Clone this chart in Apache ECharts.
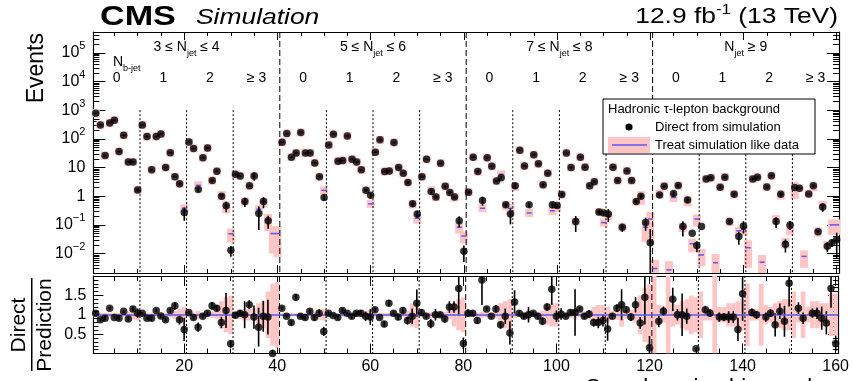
<!DOCTYPE html>
<html><head><meta charset="utf-8">
<script src="https://cdn.jsdelivr.net/npm/echarts@6/dist/echarts.min.js"></script>
<style>html,body{margin:0;padding:0;background:#fff}#c{width:852px;height:381px}</style>
</head><body><div id="c"></div>
<script>
// ---------------- data ----------------
const BIN = Array.from({length:160}, (_, i) => i + 1);

const direct = [
 780,305,26,359,445,36,133,15.7,15.7,1.66,
 305,120,8.3,120,148,10,33,4.8,2.7,0.27,
 78,46,1.7,22,48,3.5,7.4,1.0,0.46,0.013,
 5.8,5.1,0.65,2.3,5.1,0.25,0.65,0.14,null,null,
 76,152,23,32,166,32,32,14.5,4.8,0.9,
 61,145,16.6,17.5,126,19.5,15.7,8.3,1.6,1.08,
 34,92,7.2,7.6,74,10,6.3,3.0,0.54,0.24,
 4.8,19.5,1.45,0.93,14,2.2,1.34,0.93,0.14,0.012,
 1.38,23,7.2,0.71,22,11,3.4,4.4,0.5,0.24,
 2.3,40,11.4,0.5,28,13.4,2.5,6.3,0.5,0.47,
 1.15,32,10,0.13,23,10.3,2.3,3.2,0.28,0.26,
 0.24,10.3,3.5,0.083,7.6,3.5,0.65,1.0,0.12,0.024,
 null,1.1,2.2,null,1.23,2.34,0.087,0.74,0.051,0.019,
 0.087,4.0,4.4,null,2.06,4.6,0.13,1.17,0.039,0.092,
 null,4.0,4.6,null,2.1,5.2,0.13,1.17,0.021,0.1,
 2.0,1.9,null,1.2,2.3,0.058,0.42,0.018,0.024,0.03];

const pred = [
 780,305,26,359,445,36,133,15.7,15.7,1.66,
 305,120,8.3,120,148,10,33,4.8,2.7,0.38,
 78,46,2.4,22,48,3.5,7.4,1.1,0.46,0.049,
 5.8,5.1,0.65,2.3,5.1,0.35,0.65,0.15,0.05,0.05,
 76,152,23,32,166,32,32,14.5,4.8,1.6,
 61,145,16.6,17.5,126,19.5,15.7,8.3,1.6,0.54,
 34,92,7.2,7.6,74,10,6.3,3.0,0.54,0.17,
 4.8,19.5,1.6,0.93,14,2.2,1.34,0.93,0.083,0.041,
 1.38,23,7.2,0.38,22,11,3.4,5.8,0.5,0.38,
 2.1,40,11.4,0.26,28,13.4,2.5,6.3,0.31,0.4,
 1.15,32,10,0.13,23,10.3,2.3,3.2,0.28,0.12,
 0.2,10.3,3.5,0.083,7.6,3.5,0.65,1.0,0.083,0.16,
 0.003,1.2,2.2,0.0027,0.9,2.34,0.087,0.74,0.022,0.16,
 0.009,4.0,4.4,0.0048,2.06,4.6,0.13,1.17,0.062,0.07,
 0.016,4.0,4.6,0.005,2.1,5.2,0.16,1.17,0.025,0.075,
 2.0,1.9,0.008,1.2,2.3,0.06,0.5,0.02,0.1,0.1];

// relative uncertainty of the prediction (pink band half-height)
const unc = [
 0.05,0.05,0.05,0.05,0.05,0.05,0.05,0.08,0.12,0.15,
 0.05,0.05,0.05,0.05,0.05,0.05,0.06,0.1,0.15,0.2,
 0.06,0.06,0.1,0.06,0.06,0.08,0.1,0.35,0.45,0.5,
 0.1,0.1,0.15,0.15,0.17,0.3,0.35,0.6,0.8,0.85,
 0.04,0.04,0.04,0.04,0.04,0.04,0.05,0.08,0.12,0.15,
 0.04,0.04,0.04,0.04,0.04,0.04,0.05,0.08,0.1,0.12,
 0.05,0.05,0.05,0.05,0.05,0.05,0.06,0.1,0.3,0.35,
 0.06,0.06,0.08,0.08,0.06,0.08,0.1,0.3,0.4,0.45,
 0.06,0.06,0.06,0.08,0.06,0.06,0.08,0.3,0.35,0.4,
 0.08,0.06,0.08,0.12,0.06,0.08,0.1,0.25,0.3,0.3,
 0.08,0.06,0.08,0.12,0.06,0.08,0.1,0.2,0.25,0.25,
 0.2,0.1,0.12,0.3,0.1,0.12,0.2,0.5,0.7,0.8,
 1.0,0.25,0.2,1.0,0.3,0.25,0.35,0.4,0.5,0.45,
 0.6,0.15,0.15,1.0,0.2,0.2,0.3,0.3,0.35,0.4,
 0.8,0.15,0.15,0.8,0.25,0.2,0.3,0.35,0.4,0.4,
 0.6,0.2,0.6,0.2,0.35,0.35,0.3,0.3,0.55,0.55];

// Direct / Prediction
const ratio = [
 1.04,0.87,0.91,1.17,0.93,0.91,1.09,0.89,1.15,1.04,
 1.04,0.91,0.91,1.11,0.97,0.87,1.11,1.23,0.87,0.62,
 1.06,0.93,0.68,0.96,1.04,1.23,1.17,0.80,1.11,0.25,
 0.99,1.04,1.0,1.26,0.94,0.68,0.96,0.94,0,null,
 1.17,0.96,0.80,1.45,0.96,0.93,1.09,0.93,1.04,0.57,
 1.04,0.98,0.93,1.11,1.04,0.96,1.04,1.04,0.96,0.94,
 1.13,0.93,0.76,1.30,1.04,0.94,1.11,0.85,0.96,1.30,
 1.06,0.96,0.77,1.0,1.0,0.89,1.2,1.2,1.68,0.26,
 1.04,1.04,0.85,1.9,1.15,0.96,1.15,0.74,0.96,0.53,
 1.33,1.04,0.96,1.0,1.04,0.96,0.83,1.2,1.66,0.96,
 1.02,0.96,1.06,1.06,1.15,0.96,1.02,0.80,0.80,0.85,
 0.63,0.96,1.17,1.26,1.13,0.94,1.26,0.79,1.45,0.15,
 null,0.83,1.09,null,1.4,1.0,1.0,0.96,null,0.12,
 null,1.13,1.04,null,0.94,0.94,0.94,0.94,0.62,1.54,
 null,1.06,1.0,null,0.94,1.04,0.74,1.09,0.83,1.81,
 null,1.17,0.91,null,1.04,1.04,0.91,0.79,1.68,0.26];

// statistical error on the ratio
const ratioErr = [
 0.03,0.04,0.06,0.03,0.03,0.05,0.04,0.06,0.06,0.12,
 0.03,0.04,0.07,0.04,0.04,0.06,0.05,0.1,0.12,0.3,
 0.04,0.05,0.12,0.05,0.05,0.1,0.08,0.15,0.45,0.1,
 0.08,0.08,0.35,0.12,0.3,0.5,0.4,0.45,0.1,0,
 0.04,0.03,0.06,0.08,0.03,0.06,0.06,0.08,0.1,0.12,
 0.04,0.03,0.06,0.06,0.03,0.06,0.06,0.08,0.12,0.2,
 0.05,0.04,0.08,0.08,0.05,0.08,0.08,0.1,0.2,0.35,
 0.08,0.05,0.12,0.15,0.06,0.1,0.15,0.15,0.7,0.15,
 0.1,0.05,0.08,0.65,0.05,0.07,0.1,0.1,0.2,0.3,
 0.3,0.05,0.07,0.2,0.05,0.07,0.1,0.1,0.4,0.15,
 0.15,0.05,0.07,0.6,0.05,0.07,0.1,0.1,0.15,0.15,
 0.3,0.07,0.1,0.4,0.08,0.1,0.2,0.15,0.7,0.3,
 0,0.15,0.12,0,0.3,0.15,0.55,0.2,0.3,0.05,
 0,0.1,0.1,0,0.12,0.1,0.15,0.15,0.3,0.7,
 0,0.1,0.1,0,0.12,0.1,0.3,0.2,0.4,0.6,
 0,0.15,0.15,0,0.12,0.15,0.3,0.3,0.5,0.2];

const njetLabels = ['3 ≤ N{s|jet} ≤ 4', '5 ≤ N{s|jet} ≤ 6', '7 ≤ N{s|jet} ≤ 8', 'N{s|jet} ≥ 9'];
const nbLabels = ['0', '1', '2', '≥ 3'];
const groupEdges = [40.5, 80.5, 120.5];
const nbEdges = [10.5,20.5,30.5,50.5,60.5,70.5,90.5,100.5,110.5,130.5,140.5,150.5];
const xMajor = [20,40,60,80,100,120,140,160];

// ---------------- layout / style ----------------
const FF = '"Liberation Sans", Arial, Helvetica, sans-serif';
const PINK = '#ffc4c4', BLUE = '#5a5af0';
const L = 93.4, T1 = 32, W = 745.6, H1 = 241, T2 = 276, H2 = 77.5;
const YMIN = 0.0021, YMAX = 5.3e5;
const LMIN = Math.log10(YMIN), LMAX = Math.log10(YMAX);
const px = v => L + (v - 0.5) / 160 * W;

const xMinor = []; for (let v = 5; v <= 160; v += 5) if (v % 20) xMinor.push(v);
const yMajorLog = [-2,-1,0,1,2,3,4,5];
const yMinorLog = [];
for (let n = -3; n <= 5; n++) for (let k = 2; k <= 9; k++) { const v = n + Math.log10(k); if (v > LMIN && v < LMAX) yMinorLog.push(v); }

const LINE = {color:'#000', width:1.2};
function xa(grid, pos, vals, len, labels, line) {
  return {type:'value', gridIndex:grid, position:pos, min:0.5, max:160.5, offset:0,
    axisLine:{show:line, onZero:false, lineStyle:LINE},
    axisTick:{show:true, inside:true, length:len, customValues:vals, lineStyle:{color:'#000', width:1}},
    axisLabel: labels ? {show:true, customValues:vals, margin:5, color:'#000', fontSize:16, fontFamily:FF} : {show:false},
    splitLine:{show:false}};
}
function logLabel(v) {
  const n = Math.round(v);
  if (n === 0) return '{m|1}';
  if (n === 1) return '{m|10}';
  return '{m|10}{s|' + String(n).replace('-', '−') + '}';
}
function ya(grid, pos, vals, len, labels, line) {
  return {type:'value', gridIndex:grid, position:pos, min:LMIN, max:LMAX, offset:0,
    axisLine:{show:line, onZero:false, lineStyle:LINE},
    axisTick:{show:true, inside:true, length:len, customValues:vals, lineStyle:{color:'#000', width:1}},
    axisLabel: labels ? {show:true, customValues:vals, margin:8, color:'#000', fontFamily:FF, formatter:logLabel,
      rich:{m:{fontSize:16, lineHeight:24, fontFamily:FF, color:'#000'}, s:{fontSize:11, lineHeight:10, verticalAlign:'top', fontFamily:FF, color:'#000'}}} : {show:false},
    splitLine:{show:false}};
}
function ra(pos, labels) {
  return {type:'value', gridIndex:1, position:pos, min:0, max:2, interval:0.5, offset:0,
    axisLine:{show:true, onZero:false, lineStyle:LINE},
    axisTick:{show:true, inside:true, length:10, lineStyle:{color:'#000', width:1}},
    minorTick:{show:true, splitNumber:5, length:5, lineStyle:{color:'#000', width:1}},
    axisLabel: labels ? {show:true, margin:7, color:'#000', fontSize:16, fontFamily:FF, showMinLabel:false, showMaxLabel:false,
      formatter: v => String(v)} : {show:false},
    splitLine:{show:false}};
}

// ---------------- render items ----------------
function rTopBox(params, api) {
  const i = params.dataIndex, p = pred[i]; if (p == null) return null;
  const u = unc[i];
  const c = api.coord([BIN[i], p]);
  const yHi = api.coord([BIN[i], Math.min(p * (1 + u), YMAX)])[1];
  const yLo = api.coord([BIN[i], Math.max(p * (1 - u), YMIN)])[1];
  const y0 = Math.min(yHi, c[1] - 4), y1 = Math.max(yLo, c[1] + 4);
  return {type:'rect', shape:{x:c[0] - 4, y:y0, width:8, height:y1 - y0}, style:{fill:PINK}};
}
function rTopPred(params, api) {
  const i = params.dataIndex, p = pred[i]; if (p == null) return null;
  const c = api.coord([BIN[i], p]);
  return {type:'line', shape:{x1:c[0] - 2.5, y1:c[1], x2:c[0] + 2.5, y2:c[1]}, style:{stroke:BLUE, lineWidth:1.5}};
}
function rTopErr(params, api) {
  const i = params.dataIndex, d = direct[i];
  if (d == null || ratio[i] == null || ratio[i] <= 0 || !ratioErr[i]) return null;
  const rel = ratioErr[i] / ratio[i];
  const a = api.coord([BIN[i], Math.min(d * (1 + rel), YMAX)]);
  const b = api.coord([BIN[i], Math.max(d * (1 - rel), YMIN)]);
  return {type:'line', shape:{x1:a[0], y1:a[1], x2:b[0], y2:b[1]}, style:{stroke:'#000', lineWidth:1.6}};
}
function rRatBox(params, api) {
  const i = params.dataIndex; if (pred[i] == null) return null;
  const u = unc[i];
  const a = api.coord([BIN[i] - 0.5, Math.min(1 + u, 2)]);
  const b = api.coord([BIN[i] + 0.5, Math.max(1 - u, 0)]);
  return {type:'rect', shape:{x:a[0], y:a[1], width:b[0] - a[0], height:b[1] - a[1]}, style:{fill:PINK}};
}
function rRatErr(params, api) {
  const i = params.dataIndex, r = ratio[i], e = ratioErr[i];
  if (r == null || !e) return null;
  const a = api.coord([BIN[i], Math.min(r + e, 2)]);
  const b = api.coord([BIN[i], Math.max(r - e, 0)]);
  return {type:'line', shape:{x1:a[0], y1:a[1], x2:b[0], y2:b[1]}, style:{stroke:'#000', lineWidth:1.6}};
}
function vLine(yTop, yBot, dash) {
  return function (params, api) {
    const v = api.value(0);
    const a = api.coord([v, yTop]), b = api.coord([v, yBot]);
    return {type:'line', shape:{x1:a[0], y1:a[1], x2:b[0], y2:b[1]}, style:{stroke:'#000', lineWidth:1, lineDash:dash}};
  };
}

const binData = BIN.map(b => [b, 1]);
const topDirect = BIN.map((b, i) => [b, direct[i]]).filter(d => d[1] != null);
const ratDirect = BIN.map((b, i) => [b, ratio[i]]).filter(d => d[1] != null);

// ---------------- graphics (text) ----------------
const txt = (x, y, text, o = {}) => ({type:'text', x, y, z:100, scaleX:o.sx || 1, rotation:o.rot || 0,
  style:Object.assign({text, fill:'#000', fontFamily:FF, fontSize:o.fs || 14, fontWeight:o.fw || 'normal', fontStyle:o.fst || 'normal',
    align:o.al || 'left', verticalAlign:o.va || 'middle'}, o.rich ? {rich:o.rich} : {})});

const subRich = {m:{fontSize:14, lineHeight:22, fontFamily:FF, fill:'#000'}, s:{fontSize:9, lineHeight:9, verticalAlign:'bottom', fontFamily:FF, fill:'#000'}};
const graphics = [
  txt(100, 17, 'CMS', {fs:28, fw:'bold', sx:1.22}),
  txt(196, 18, 'Simulation', {fs:22, fst:'italic', sx:1.2}),
  txt(838, 17, '{m|12.9 fb}{s|-1}{m| (13 TeV)}', {al:'right', sx:1.2,
      rich:{m:{fontSize:22, lineHeight:28, fontFamily:FF, fill:'#000'}, s:{fontSize:14, lineHeight:12, verticalAlign:'top', fontFamily:FF, fill:'#000'}}}),
  txt(37, 33, 'Events', {fs:23, al:'right', rot:Math.PI / 2}),
  txt(19, 325, 'Direct', {fs:21, al:'center', rot:Math.PI / 2}),
  txt(45, 325, 'Prediction', {fs:21, al:'center', rot:Math.PI / 2}),
  {type:'rect', z:100, shape:{x:31, y:278, width:1.5, height:93}, style:{fill:'#000'}},
  txt(839, 377, 'Search region bin number', {fs:22, al:'right', va:'top'}),
  txt(113, 62, '{m|N}{s|b-jet}', {rich:subRich}),
  // legend
  {type:'rect', z:100, shape:{x:603, y:99, width:212, height:55}, style:{fill:'#fff', stroke:'#000', lineWidth:1}},
  txt(608, 109, 'Hadronic τ-lepton background', {fs:13}),
  {type:'circle', z:101, shape:{cx:629, cy:127, r:3.6}, style:{fill:'#000'}},
  txt(655, 127, 'Direct from simulation', {fs:13}),
  {type:'rect', z:101, shape:{x:608, y:137, width:42, height:16}, style:{fill:PINK}},
  {type:'line', z:102, shape:{x1:612, y1:145, x2:647, y2:145}, style:{stroke:BLUE, lineWidth:1.5}},
  txt(655, 145, 'Treat simulation like data', {fs:13})
];
njetLabels.forEach((t, g) => {
  const rich = t.split(/(\{s\|[^}]*\})/).filter(s => s).map(s => s.startsWith('{s|') ? s : '{m|' + s + '}').join('');
  graphics.push(txt(px(20.5 + 40 * g), 47, rich, {al:'center', rich:subRich}));
});
for (let g = 0; g < 4; g++) nbLabels.forEach((t, k) => {
  graphics.push(txt(px(5.5 + 10 * k + 40 * g), 78, t, {fs:14, al:'center'}));
});

// ---------------- chart ----------------
const chart = echarts.init(document.getElementById('c'), null, {renderer:'canvas', width:852, height:381});
chart.setOption({
  animation:false,
  backgroundColor:'#fff',
  grid:[{left:L, top:T1, width:W, height:H1}, {left:L, top:T2, width:W, height:H2}],
  xAxis:[
    xa(0,'bottom',xMajor,8,false,true), xa(0,'bottom',xMinor,4,false,false),
    xa(0,'top',xMajor,8,false,true), xa(0,'top',xMinor,4,false,false),
    xa(1,'bottom',xMajor,10,true,true), xa(1,'bottom',xMinor,5,false,false),
    xa(1,'top',xMajor,10,false,true), xa(1,'top',xMinor,5,false,false)
  ],
  yAxis:[
    {type:'log', gridIndex:0, position:'left', min:YMIN, max:YMAX, logBase:10,
     axisLine:{show:true, onZero:false, lineStyle:LINE}, axisTick:{show:false}, axisLabel:{show:false}, splitLine:{show:false}, minorTick:{show:false}},
    ya(0,'left',yMajorLog,12,true,false), ya(0,'left',yMinorLog,6,false,false),
    ya(0,'right',yMajorLog,12,false,true), ya(0,'right',yMinorLog,6,false,false),
    ra('left',true), ra('right',false)
  ],
  series:[
    {type:'custom', xAxisIndex:0, yAxisIndex:0, data:binData, renderItem:rTopBox, clip:true, z:1, silent:true},
    {type:'custom', xAxisIndex:0, yAxisIndex:0, data:nbEdges.map(v => [v, 1]), renderItem:vLine(1000, YMIN, [2,2]), clip:true, z:2, silent:true},
    {type:'custom', xAxisIndex:0, yAxisIndex:0, data:groupEdges.map(v => [v, 1]), renderItem:vLine(YMAX, YMIN, [6,3]), clip:true, z:2, silent:true},
    {type:'custom', xAxisIndex:0, yAxisIndex:0, data:binData, renderItem:rTopPred, clip:true, z:3, silent:true},
    {type:'custom', xAxisIndex:0, yAxisIndex:0, data:binData, renderItem:rTopErr, clip:true, z:4, silent:true},
    {type:'scatter', xAxisIndex:0, yAxisIndex:0, data:topDirect, symbol:'circle', symbolSize:7.5, itemStyle:{color:'#000'}, z:5, silent:true},

    {type:'custom', xAxisIndex:4, yAxisIndex:5, data:binData, renderItem:rRatBox, clip:true, z:1, silent:true,
     markLine:{silent:true, symbol:'none', data:[{yAxis:1}], label:{show:false}, lineStyle:{color:BLUE, width:1.5, type:'solid'}}},
    {type:'custom', xAxisIndex:4, yAxisIndex:5, data:nbEdges.map(v => [v, 1]), renderItem:vLine(2, 0, [2,2]), clip:true, z:2, silent:true},
    {type:'custom', xAxisIndex:4, yAxisIndex:5, data:groupEdges.map(v => [v, 1]), renderItem:vLine(2, 0, [6,3]), clip:true, z:2, silent:true},
    {type:'custom', xAxisIndex:4, yAxisIndex:5, data:binData, renderItem:rRatErr, clip:true, z:4, silent:true},
    {type:'scatter', xAxisIndex:4, yAxisIndex:5, data:ratDirect, symbol:'circle', symbolSize:7.5, itemStyle:{color:'#000'}, z:5, silent:true}
  ],
  graphic:graphics
});
</script></body></html>
